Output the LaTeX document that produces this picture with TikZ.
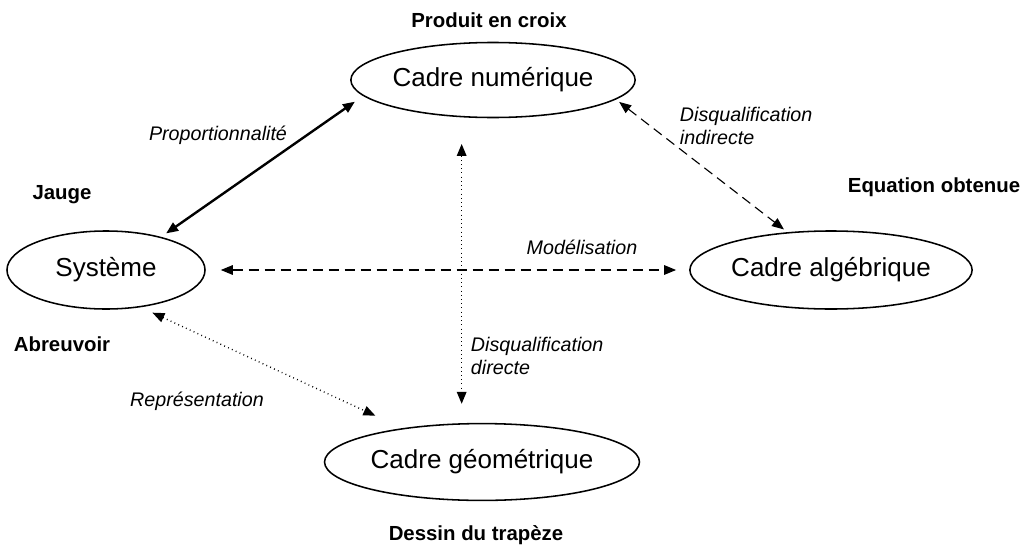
\documentclass[tikz,border=0pt]{standalone}
\usepackage{fontspec}
\setmainfont{Liberation Sans}
\usetikzlibrary{shapes.geometric,arrows.meta}

\tikzset{
  cadre/.style={ellipse, draw, line width=1.1pt, inner sep=0pt, font=\fontsize{18.5}{22}\selectfont},
  titre/.style={font=\fontsize{14.5}{17}\selectfont\bfseries},
  etiq/.style={font=\fontsize{14}{16.3}\selectfont\itshape, align=left},
  lien/.style={{Triangle[length=0.3cm,width=0.24cm]}-{Triangle[length=0.3cm,width=0.24cm]}},
  plein/.style={lien, line width=1.7pt},
  tirets/.style={lien, line width=0.8pt, dash pattern=on 0.25cm off 0.15cm},
  points/.style={lien, line width=1pt, dash pattern=on 0.6pt off 2.4pt},
}

\begin{document}
\begin{tikzpicture}[x=0.025cm, y=-0.025cm]
        \useasboundingbox (0,0) rectangle (1025,546);
        \node[cadre, minimum width=6.2cm, minimum height=1.875cm] (num) at (493,80) {Cadre numérique};
        \node[cadre, minimum width=4.95cm, minimum height=1.95cm] (sys) at (106,270) {Système};
        \node[cadre, minimum width=6.33cm, minimum height=1.95cm] (alg) at (831,270) {Cadre algébrique};
        \node[cadre, minimum width=6.58cm, minimum height=1.92cm] (geo) at (482,462) {Cadre géométrique};

        \node[titre] (croix) at (489,20) {Produit en croix};
        \node[titre] (jauge) at (62,195) {Jauge};
        \node[titre] (equation) at (934,187) {Equation obtenue};
        \node[titre] (abreuvoir) at (62,344) {Abreuvoir};
        \node[titre] (dessin) at (476,535) {Dessin du trapèze};

        \node[etiq] (prop) at (218,135) {Proportionnalité};
        \node[etiq, anchor=west] (indir) at (675,126) {Disqualification\\indirecte};
        \node[etiq] (model) at (582,247) {Modélisation};
        \node[etiq, anchor=west] (dir) at (466,356) {Disqualification\\directe};
        \node[etiq] (repr) at (197,401) {Représentation};

        \draw[plein, shorten <=0.25cm, shorten >=0.15cm] (num.187) -- (sys.31);
        \draw[tirets, shorten <=0.1cm, shorten >=0.11cm] (num.351) -- (alg.139);
        \draw[tirets, shorten <=0.375cm, shorten >=0.325cm] (sys.east) -- (alg.west);
        \draw[points, shorten <=0.665cm, shorten >=0.475cm] (num.230) -- (num.230 |- geo.north);
        \draw[points, shorten <=0.32cm, shorten >=0.74cm] (sys.313) -- (geo.157);
\end{tikzpicture}
\end{document}
